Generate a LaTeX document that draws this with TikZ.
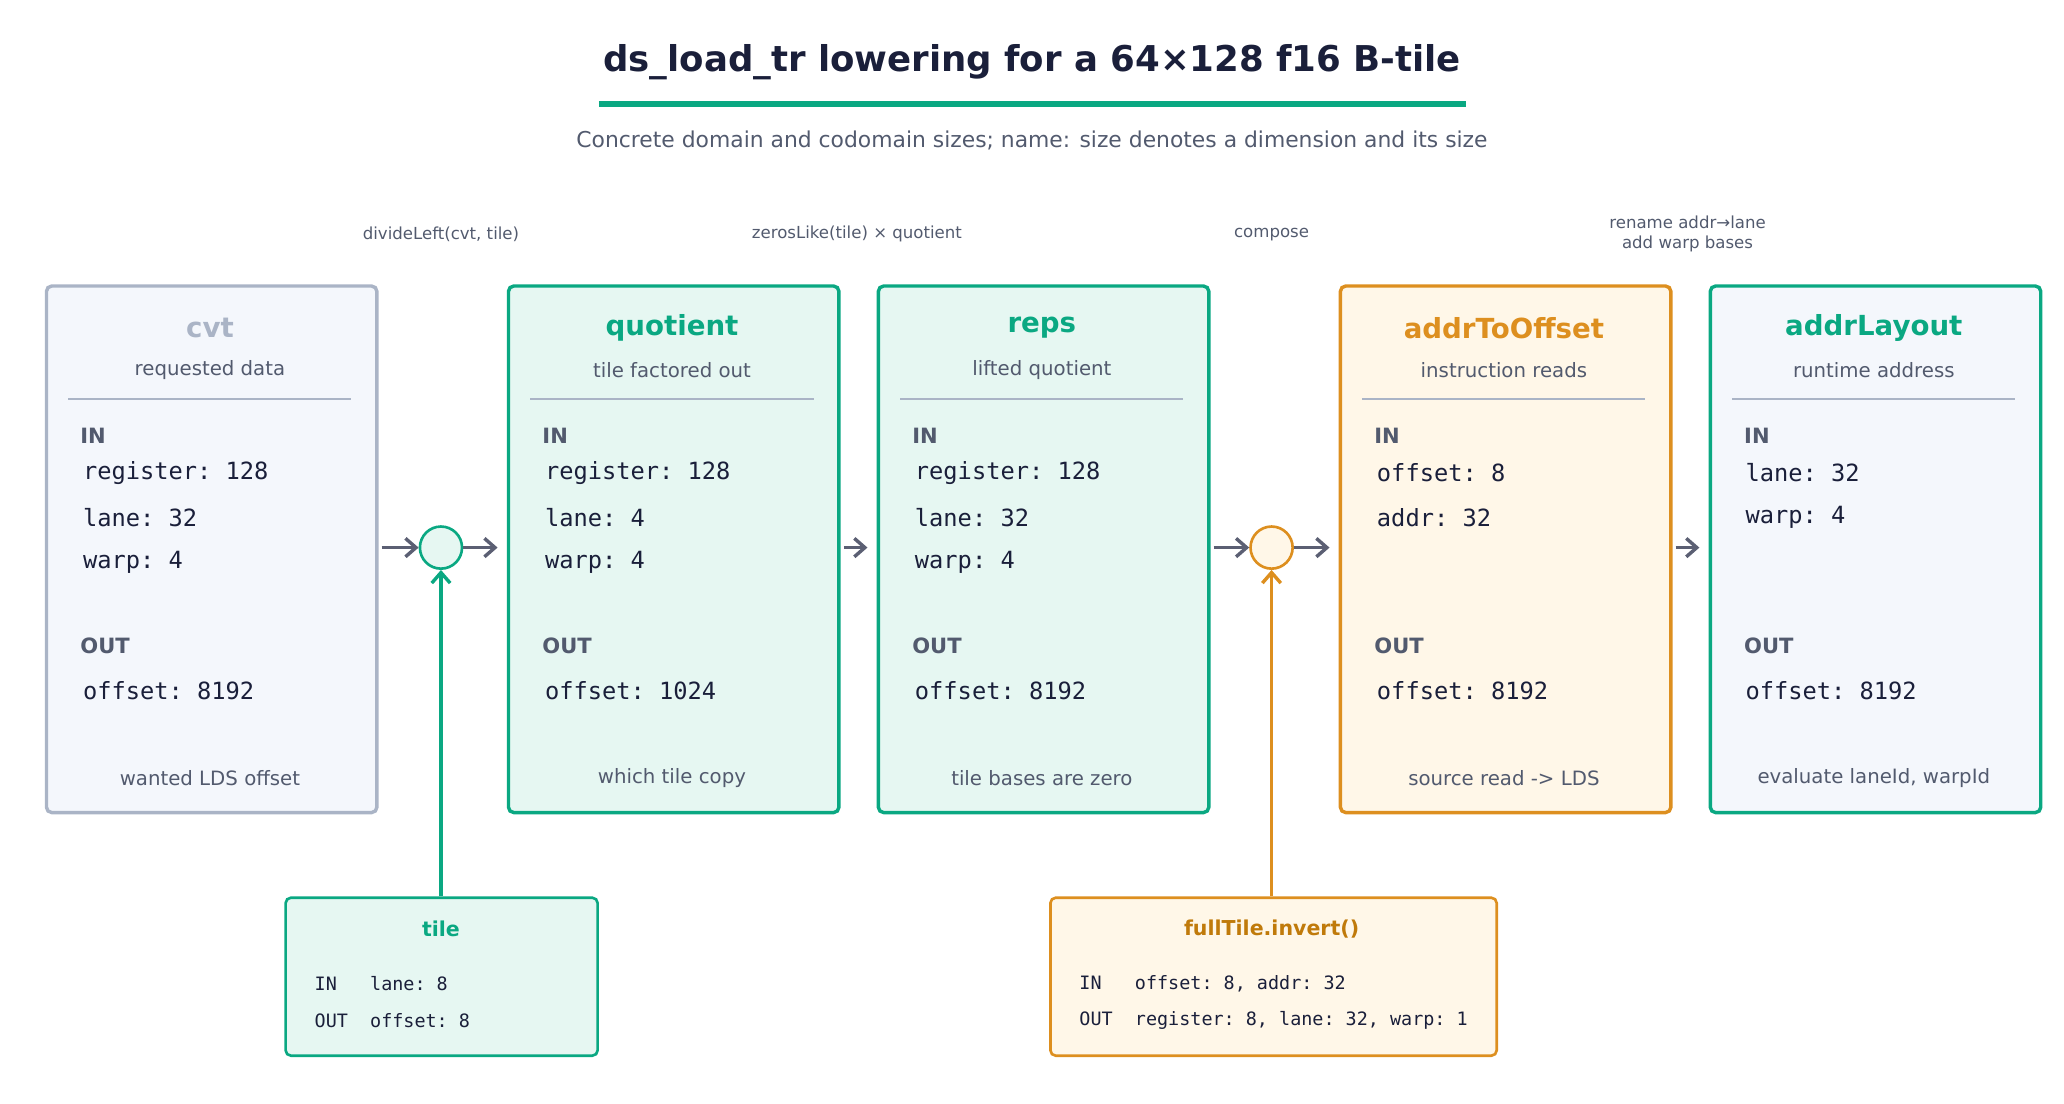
\documentclass[tikz,border=0pt]{standalone}
\usepackage{fontspec}
\setmainfont{DejaVu Sans}
\setmonofont{DejaVu Sans Mono}
\usetikzlibrary{arrows.meta}
\definecolor{grn}{HTML}{0AA882}
\definecolor{grnf}{HTML}{E6F7F2}
\definecolor{gry}{HTML}{AAB4C6}
\definecolor{gryf}{HTML}{F4F7FC}
\definecolor{org}{HTML}{DD8F1F}
\definecolor{orgd}{HTML}{C07A0A}
\definecolor{orgf}{HTML}{FFF7E8}
\definecolor{ink}{HTML}{1A1F3A}
\definecolor{sub}{HTML}{525A6E}
\definecolor{arr}{HTML}{5B5F73}
\tikzset{
 box/.style={draw, line width=1.3pt, rounded corners=2pt, minimum width=125.5pt, minimum height=200pt, anchor=north west, inner sep=0pt},
 sbox/.style={draw, line width=1pt, rounded corners=2pt, anchor=north west, inner sep=0pt},
 ttl/.style={font=\bfseries\fontsize{10.5}{12}\selectfont},
 subt/.style={font=\fontsize{7.5}{9}\selectfont, text=sub},
 lbl/.style={font=\bfseries\fontsize{8}{10}\selectfont, text=sub, anchor=west},
 row/.style={font=\ttfamily\fontsize{9}{11}\selectfont, text=ink, anchor=west},
 srow/.style={font=\ttfamily\fontsize{7}{9}\selectfont, text=ink, anchor=west},
 ann/.style={font=\fontsize{6.3}{7.5}\selectfont, text=sub, align=center},
 con/.style={draw=arr, line width=1.3pt, -{Straight Barb[length=4pt,width=7pt]}},
 junc/.style={circle, draw, line width=1pt, minimum size=16pt, inner sep=0pt},
}
\newcommand\mainbox[8]{% x, name, stroke, fill, titlecolor, title, subtitle, footer
 \node[box, draw=#3, fill=#4] (#2) at (#1,216) {};
 \node[ttl, text=#5] (#2t) at (#1+125.5,249) {#6};
 \node[subt] (#2s) at (#1+125.5,281) {#7};
 \draw[gry, line width=0.6pt] (#1+18,303) -- (#1+233,303);
 \node[subt] (#2f) at (#1+125.5,591) {#8};
 \node[lbl] (#2in) at (#1+20,331) {IN};
 \node[lbl] (#2out) at (#1+20,491) {OUT};
}
\begin{document}
\begin{tikzpicture}[x=0.5pt,y=-0.5pt]
\useasboundingbox (0,0) rectangle (1568,838);
\node[font=\bfseries\fontsize{13.5}{16}\selectfont, text=ink] (title) at (784,47) {ds\_load\_tr lowering for a 64×128 f16 B-tile};
\draw[grn, line width=2.2pt] (455,79) -- (1114,79);
\node[font=\fontsize{8.3}{10}\selectfont, text=sub] (subtitle) at (784,107) {Concrete domain and codomain sizes; name: size denotes a dimension and its size};

\node[ann] (a1) at (335,178) {divideLeft(cvt, tile)};
\node[ann] (a2) at (651,178) {zerosLike(tile) × quotient};
\node[ann] (a3) at (966,178) {compose};
\node[ann] (a4) at (1282,178) {rename addr→lane\\add warp bases};

\mainbox{34}{cvt}{gry}{gryf}{gry}{cvt}{requested data}{wanted LDS offset}
\mainbox{385}{quot}{grn}{grnf}{grn}{quotient}{tile factored out}{which tile copy}
\mainbox{666}{reps}{grn}{grnf}{grn}{reps}{lifted quotient}{tile bases are zero}
\mainbox{1017}{ato}{org}{orgf}{org}{addrToOffset}{instruction reads}{source read -> LDS}
\mainbox{1298}{alay}{grn}{gryf}{grn}{addrLayout}{runtime address}{evaluate laneId, warpId}

\node[row] at (56,359) {register: 128};
\node[row] at (56,393) {lane: 32};
\node[row] at (56,427) {warp: 4};
\node[row] at (56,525) {offset: 8192};
\node[row] at (407,359) {register: 128};
\node[row] at (407,393) {lane: 4};
\node[row] at (407,427) {warp: 4};
\node[row] at (407,525) {offset: 1024};
\node[row] at (688,359) {register: 128};
\node[row] at (688,393) {lane: 32};
\node[row] at (688,427) {warp: 4};
\node[row] at (688,525) {offset: 8192};
\node[row] at (1039,359) {offset: 8};
\node[row] at (1039,393) {addr: 32};
\node[row] at (1039,525) {offset: 8192};
\node[row] at (1319,359) {lane: 32};
\node[row] at (1319,393) {warp: 4};
\node[row] at (1319,525) {offset: 8192};

\node[junc, draw=grn, fill=grnf] (j1) at (335,416) {};
\node[junc, draw=org, fill=orgf] (j2) at (966,416) {};
\coordinate (c1) at (290,416); \coordinate (c2) at (378,416);
\coordinate (c3) at (641,416); \coordinate (c4) at (659,416);
\coordinate (c5) at (922,416); \coordinate (c6) at (1010,416);
\coordinate (c7) at (1273,416); \coordinate (c8) at (1291,416);
\draw[con] (c1) -- (j1.west);
\draw[con] (j1.east) -- (c2);
\draw[con] (c3) -- (c4);
\draw[con] (c5) -- (j2.west);
\draw[con] (j2.east) -- (c6);
\draw[con] (c7) -- (c8);

\node[sbox, draw=grn, fill=grnf, minimum width=118.5pt, minimum height=60pt] (tile) at (216,681) {};
\node[font=\bfseries\fontsize{7.8}{9}\selectfont, text=grn] (tilet) at (335,706) {tile};
\node[srow] at (232,747) {IN\ \ \ lane: 8};
\node[srow] at (232,775) {OUT\ \ offset: 8};

\node[sbox, draw=org, fill=orgf, minimum width=169.5pt, minimum height=60pt] (ft) at (797,681) {};
\node[font=\bfseries\fontsize{7.8}{9}\selectfont, text=orgd] (ftt) at (966,706) {fullTile.invert()};
\node[srow] at (813,747) {IN\ \ \ offset: 8, addr: 32};
\node[srow] at (813,775) {OUT\ \ register: 8, lane: 32, warp: 1};

\draw[grn, line width=1.3pt, -{Straight Barb[length=4pt,width=7pt]}] (tile.north -| j1) -- (j1.south);
\draw[org, line width=1.3pt, -{Straight Barb[length=4pt,width=7pt]}] (ft.north -| j2) -- (j2.south);
\end{tikzpicture}
\end{document}
